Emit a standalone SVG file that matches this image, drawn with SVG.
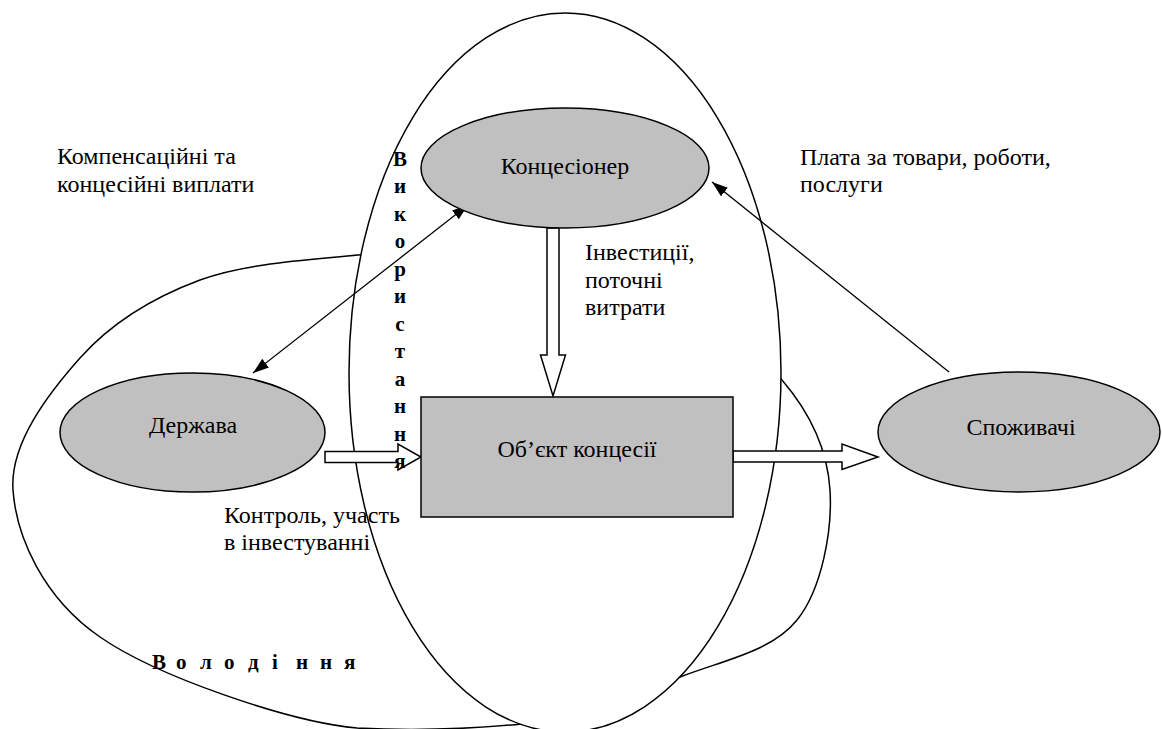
<svg xmlns="http://www.w3.org/2000/svg" width="1162" height="729" viewBox="0 0 1162 729">
<style>
.t{font-family:"Liberation Serif","Times New Roman",serif;font-size:24px;fill:#000}
.b{font-family:"Liberation Serif","Times New Roman",serif;font-size:21px;font-weight:bold;fill:#000}
.node{fill:#c0c0c0;stroke:#000;stroke-width:1.5}
.area{fill:#fff;stroke:#000;stroke-width:1.5}
.blk{fill:#fff;stroke:#000;stroke-width:1.5;stroke-linejoin:miter}
.ln{fill:none;stroke:#000;stroke-width:1.3}
</style>
<defs>
<marker id="ah" viewBox="0 0 16 11" refX="16" refY="5.5" markerWidth="16" markerHeight="11" markerUnits="userSpaceOnUse" orient="auto-start-reverse">
<path d="M0,0 L16,5.5 L0,11 z" fill="#000"/>
</marker>
</defs>
<rect width="1162" height="729" fill="#fff"/>
<g id="volodinnia">
<path class="area" d="M470,252 C421.3,247.8 403,250.3 358,255 C313,259.7 246.3,262.8 200,280 C153.7,297.2 111.2,323 80,358 C48.8,393 9.7,443.5 13,490 C16.3,536.5 42.7,597.3 100,637 C157.3,676.7 290,722 357,728 C412,731 470,729 522,724 C575.8,715.5 634.2,694.5 680,677 C725.8,659.5 772,651.2 797,620 C822,588.8 832.5,530 830,490 C827.5,450 812,415 782,380 C752,345 702,301.3 650,280 C598,258.7 518.7,256.2 470,252 Z"/>
<text class="b" x="152 176 200 224 248 272 296 320 344" y="669">Володіння</text>
</g>
<g id="vykorystannia">
<ellipse class="area" cx="565" cy="372.5" rx="216" ry="359.5"/>
</g>
<g id="connectors">
<line class="ln" x1="253" y1="373" x2="468" y2="205" marker-start="url(#ah)" marker-end="url(#ah)"/>
<line class="ln" x1="949" y1="372" x2="712" y2="182" marker-end="url(#ah)"/>
<polygon class="blk" points="547,228 559,228 559,355 565.5,355 553,396 540.5,355 547,355"/>
<polygon class="blk" points="325,451.5 398,451.5 398,444 421,457 398,470 398,462.5 325,462.5"/>
<polygon class="blk" points="733,451 842,451 842,444 878,457 842,469.5 842,462 733,462"/>
</g>
<g id="koncesioner">
<ellipse class="node" cx="565" cy="168" rx="144" ry="60"/>
<text class="t" x="565" y="174" text-anchor="middle">Концесіонер</text>
</g>
<g id="derzhava">
<ellipse class="node" cx="192.5" cy="432.5" rx="132.5" ry="59.5"/>
<text class="t" x="193" y="433" text-anchor="middle">Держава</text>
</g>
<g id="obiekt">
<rect class="node" x="421" y="397" width="312" height="120"/>
<text class="t" x="577" y="457" text-anchor="middle">Об’єкт концесії</text>
</g>
<g id="spozhyvachi">
<ellipse class="node" cx="1019" cy="432" rx="141" ry="60"/>
<text class="t" x="1021" y="435" text-anchor="middle">Споживачі</text>
</g>
<g id="labels">
<text class="b" text-anchor="middle" x="400 400 400 400 400 400 400 400 400 400 400 400" y="165.5 193 220.5 248 275.5 303 330.5 358 385.5 413 440.5 468">Використання</text>
<text class="t" x="57" y="164">Компенсаційні та</text>
<text class="t" x="57" y="192">концесійні виплати</text>
<text class="t" x="800" y="165">Плата за товари, роботи,</text>
<text class="t" x="800" y="192">послуги</text>
<text class="t" x="585" y="260">Інвестиції,</text>
<text class="t" x="585" y="287.5">поточні</text>
<text class="t" x="585" y="315">витрати</text>
<text class="t" x="224" y="523">Контроль, участь</text>
<text class="t" x="224" y="550">в інвестуванні</text>
</g>
</svg>
